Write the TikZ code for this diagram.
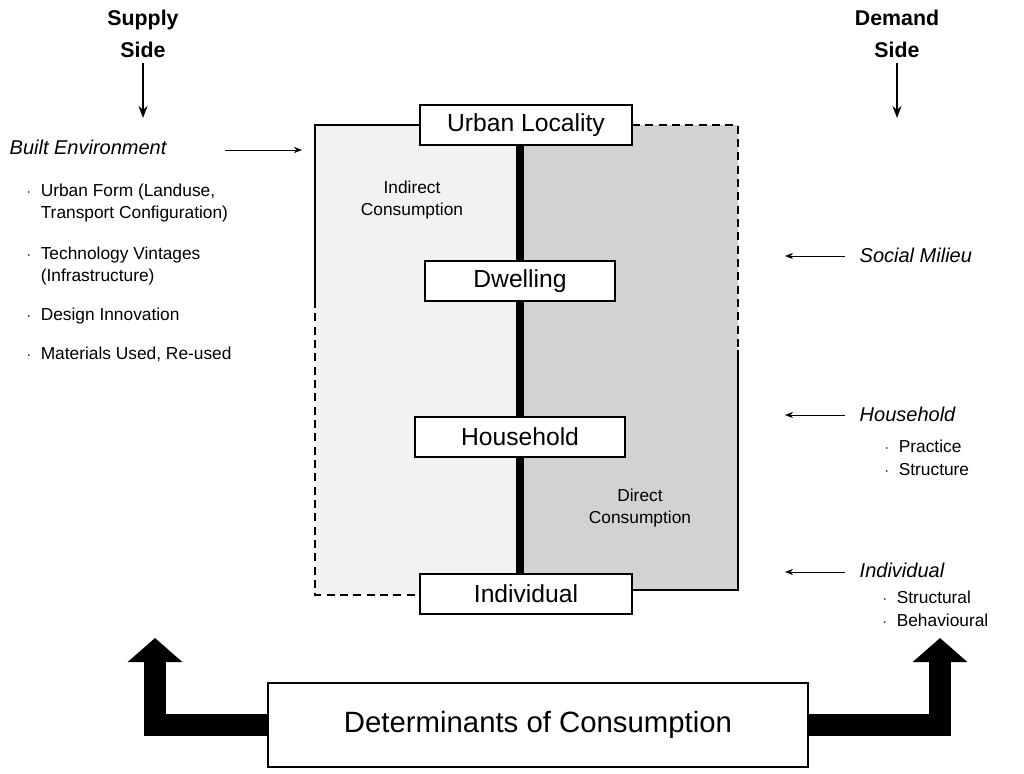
\documentclass[tikz,border=0pt]{standalone}
\usepackage{fontspec}
\setmainfont{Liberation Sans}
\usetikzlibrary{arrows.meta}
\begin{document}
\begin{tikzpicture}[x=0.75pt,y=-0.75pt,
  lvl/.style={draw,line width=1.5pt,fill=white,minimum height=30pt,font=\fontsize{18.5}{20}\selectfont,inner sep=0pt},
  lab/.style={font=\fontsize{13}{17}\selectfont,align=left,anchor=west},
  ital/.style={font=\itshape\fontsize{15}{17}\selectfont,anchor=west},
  thinarr/.style={-{Stealth[length=6pt]},thin},
  head/.style={font=\bfseries\fontsize{16}{24}\selectfont,align=center}]
\useasboundingbox (0,0) rectangle (1024,774);
% shaded regions
\fill[gray!10] (315,125) rectangle (520,595);
\fill[gray!35] (520,125) rectangle (738,590);
\draw[line width=1.2pt] (430,125) -- (315,125) -- (315,300);
\draw[line width=1.2pt,dash pattern=on 6pt off 4pt] (315,300) -- (315,595) -- (420,595);
\draw[line width=1.2pt,dash pattern=on 6pt off 4pt] (632,125) -- (738,125) -- (738,350);
\draw[line width=1.2pt] (738,350) -- (738,590) -- (632,590);
\node[lvl,minimum width=159pt] (ul) at (526,125) {Urban Locality};
\node[lvl,minimum width=142pt] (dw) at (520,281) {Dwelling};
\node[lvl,minimum width=157pt] (hh) at (520,437) {Household};
\node[lvl,minimum width=159pt] (in) at (526,594) {Individual};
\draw[line width=6pt] (dw.north) -- (dw.north |- ul.south) (dw.south) -- (hh.north) (hh.south) -- (hh.south |- in.north);
\node[font=\fontsize{13}{17}\selectfont,align=center] (ic) at (412,200) {Indirect\\Consumption};
\node[font=\fontsize{13}{17}\selectfont,align=center] (dc) at (640,508) {Direct\\Consumption};
% headings
\node[head] (ss) at (143,34) {Supply\\Side};
\node[head] (ds) at (897,34) {Demand\\Side};
\coordinate (sa) at (143,118); \coordinate (da) at (897,118);
\draw[-{Stealth[length=9pt]},line width=2pt] (ss) -- (sa);
\draw[-{Stealth[length=9pt]},line width=2pt] (ds) -- (da);
% left texts
\node[ital] (be) at (5,147) {Built Environment};
\coordinate (bee) at (302,150);
\draw[thinarr] (225,150) -- (bee);
\node[lab] (l1) at (22,203) {$\cdot$\ \ Urban Form (Landuse,\\\phantom{$\cdot$\ \ }Transport Configuration)};
\node[lab] (l2) at (22,266) {$\cdot$\ \ Technology Vintages\\\phantom{$\cdot$\ \ }(Infrastructure)};
\node[lab] (l3) at (22,316) {$\cdot$\ \ Design Innovation};
\node[lab] (l4) at (22,354) {$\cdot$\ \ Materials Used, Re-used};
% right texts
\node[ital] (sm) at (855,255) {Social Milieu};
\node[ital] (ho) at (855,414) {Household};
\node[lab] (h1) at (880,458) {$\cdot$\ \ Practice\\$\cdot$\ \ Structure};
\node[ital] (iv) at (855,570) {Individual};
\node[lab] (i1) at (878,609) {$\cdot$\ \ Structural\\$\cdot$\ \ Behavioural};
\coordinate (a1) at (785,256); \coordinate (a2) at (785,415); \coordinate (a3) at (785,572);
\draw[thinarr] (845,256) -- (a1);
\draw[thinarr] (845,415) -- (a2);
\draw[thinarr] (845,572) -- (a3);
% bottom
\node[draw,line width=1.5pt,minimum width=405pt,minimum height=63pt,font=\fontsize{22}{24}\selectfont] (det) at (538,725) {Determinants of Consumption};
\coordinate (lt) at (155,638); \coordinate (rt) at (940,638);
\draw[line width=16pt,-{Triangle[length=18pt,width=40pt]}] (det.west) -- (155,725) -- (lt);
\draw[line width=16pt,-{Triangle[length=18pt,width=40pt]}] (det.east) -- (940,725) -- (rt);
\end{tikzpicture}
\end{document}
